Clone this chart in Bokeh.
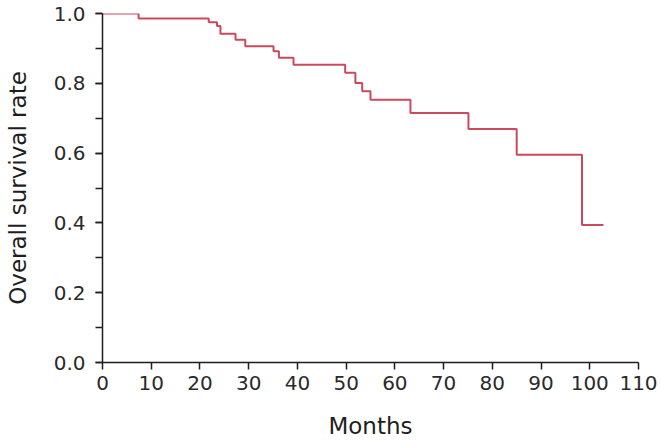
from bokeh.plotting import figure
from bokeh.models import Range1d, SingleIntervalTicker, PrintfTickFormatter
from bokeh.embed import file_html
from bokeh.resources import INLINE

# Kaplan-Meier style overall survival
event_months = [0, 7.4, 21.8, 23.5, 24.2, 27.3, 29.3, 35.1, 36.2, 39.2,
                49.8, 51.9, 53.3, 55.0, 63.2, 75.1, 85.0, 98.4]
survival = [1.0, 0.986, 0.975, 0.964, 0.942, 0.925, 0.906, 0.892, 0.873, 0.853,
            0.830, 0.801, 0.777, 0.753, 0.715, 0.669, 0.595, 0.394]
last_followup = 102.8

x_title = "Months"
y_title = "Overall survival rate"

xs = event_months + [last_followup]
ys = survival + [survival[-1]]

p = figure(width=660, height=445, output_backend="svg", toolbar_location=None,
           x_range=Range1d(0, 110), y_range=Range1d(0, 1.0),
           min_border_left=102, min_border_right=22, min_border_top=13, min_border_bottom=83)
p.outline_line_color = None
p.xgrid.grid_line_color = None
p.ygrid.grid_line_color = None
p.background_fill_color = "white"
p.border_fill_color = "white"

p.step(xs, ys, mode="after", line_color="#c94a5d", line_width=2)

FONT = "DejaVu Sans"
for ax in (p.xaxis[0], p.yaxis[0]):
    ax.axis_line_color = "#1e1e1e"
    ax.axis_line_width = 1.5
    ax.major_tick_line_color = "#1e1e1e"
    ax.major_tick_line_width = 1.5
    ax.minor_tick_line_color = "#1e1e1e"
    ax.minor_tick_line_width = 1.5
    ax.major_tick_in = 0
    ax.major_tick_out = 7
    ax.minor_tick_in = 0
    ax.minor_tick_out = 7
    ax.major_label_text_font = FONT
    ax.major_label_text_font_size = "20px"
    ax.major_label_text_color = "#2a2a2a"
    ax.axis_label_text_font = FONT
    ax.axis_label_text_font_size = "23px"
    ax.axis_label_text_font_style = "normal"
    ax.axis_label_text_color = "#1e1e1e"

p.xaxis[0].ticker = SingleIntervalTicker(interval=10, num_minor_ticks=0)
p.yaxis[0].ticker = SingleIntervalTicker(interval=0.2, num_minor_ticks=2)
p.yaxis[0].formatter = PrintfTickFormatter(format="%.1f")
p.xaxis[0].axis_label = x_title
p.yaxis[0].axis_label = y_title
p.xaxis[0].major_label_standoff = 6
p.yaxis[0].major_label_standoff = 10
p.xaxis[0].axis_label_standoff = 20
p.yaxis[0].axis_label_standoff = 20

open("out.html", "w").write(file_html(p, INLINE))
